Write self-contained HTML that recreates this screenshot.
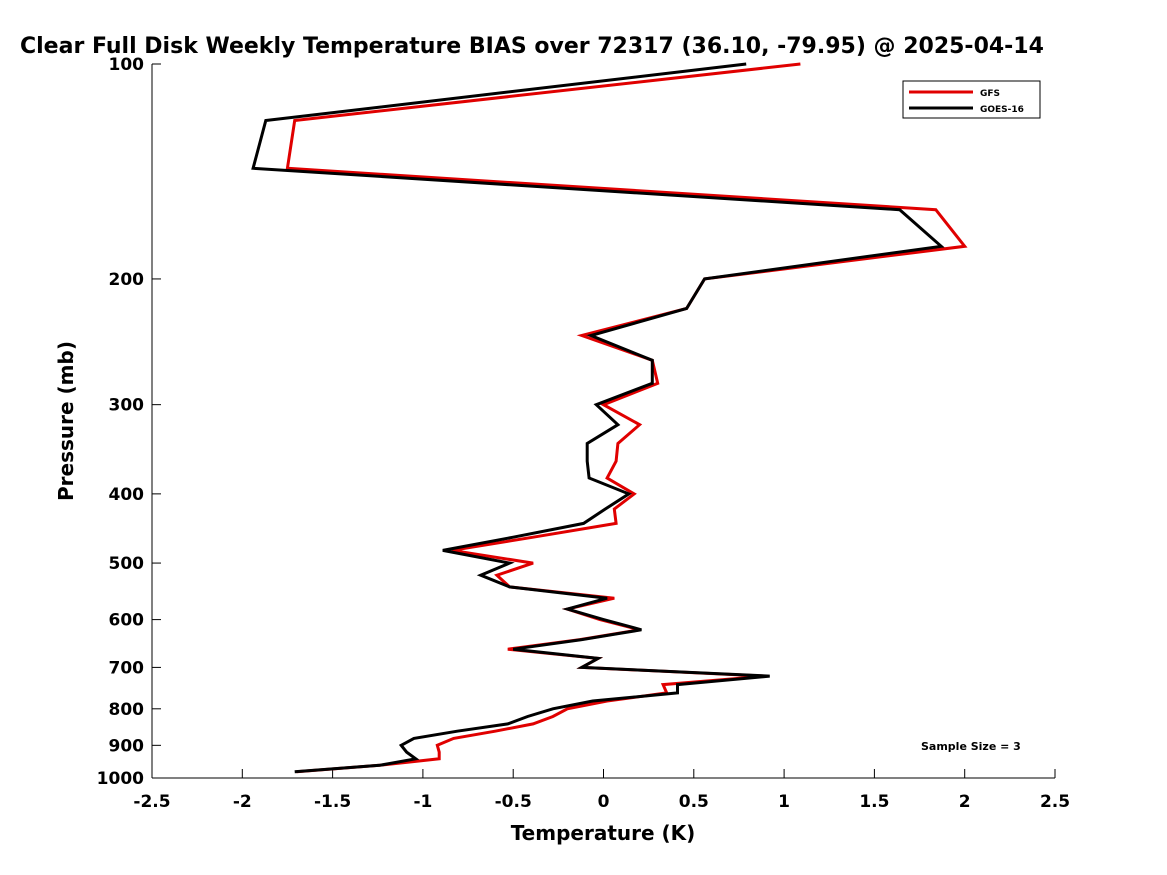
<!DOCTYPE html>
<html><head><meta charset="utf-8"><style>
html,body{margin:0;padding:0;background:#fff;overflow:hidden;}
svg{display:block;font-family:"DejaVu Sans","Liberation Sans",sans-serif;}
</style></head><body>
<svg id="chart" width="1167" height="875" viewBox="0 0 1167 875" xmlns="http://www.w3.org/2000/svg">
<rect width="1167" height="875" fill="#fff"/>
<text x="20" y="53" font-size="22" font-weight="bold" fill="#000">Clear Full Disk Weekly Temperature BIAS over 72317 (36.10, -79.95) @ 2025-04-14</text>
<g id="axes"></g>
<g id="series"></g>
<text x="603" y="840" font-size="20" font-weight="bold" text-anchor="middle">Temperature (K)</text>
<text transform="translate(73,421) rotate(-90)" font-size="20" font-weight="bold" text-anchor="middle">Pressure (mb)</text>
<text x="921" y="750" font-size="11" font-weight="bold">Sample Size = 3</text>
<g>
<rect x="903" y="81" width="137" height="37" fill="#fff" stroke="#000" stroke-width="1"/>
<line x1="909" y1="92" x2="973" y2="92" stroke="#e00000" stroke-width="3"/>
<text x="980" y="96" font-size="9" font-weight="bold">GFS</text>
<line x1="909" y1="108" x2="973" y2="108" stroke="#000" stroke-width="3"/>
<text x="980" y="112" font-size="9" font-weight="bold">GOES-16</text>
</g>
</svg>
<script>
const pressures=[100,120,140,160,180,200,220,240,260,280,300,320,340,360,380,400,420,440,460,480,500,520,540,560,580,600,620,640,660,680,700,720,740,760,780,800,820,840,860,880,900,920,940,960,980];
const gfsBias=[1.09,-1.71,-1.75,1.84,2.00,0.56,0.46,-0.12,0.27,0.30,0.00,0.20,0.08,0.07,0.02,0.17,0.06,0.07,-0.39,-0.84,-0.39,-0.59,-0.52,0.06,-0.20,-0.02,0.20,-0.13,-0.53,-0.03,-0.12,0.90,0.33,0.35,0.02,-0.20,-0.28,-0.39,-0.60,-0.83,-0.92,-0.91,-0.91,-1.24,-1.70];
const goesBias=[0.79,-1.87,-1.94,1.64,1.87,0.56,0.46,-0.07,0.27,0.27,-0.04,0.08,-0.09,-0.09,-0.08,0.14,0.01,-0.11,-0.50,-0.89,-0.52,-0.68,-0.52,0.02,-0.20,0.00,0.21,-0.12,-0.50,-0.03,-0.12,0.92,0.41,0.41,-0.06,-0.28,-0.42,-0.53,-0.81,-1.05,-1.12,-1.09,-1.04,-1.24,-1.71];
const xTicks=[-2.5,-2,-1.5,-1,-0.5,0,0.5,1,1.5,2,2.5];
const yTicks=[100,200,300,400,500,600,700,800,900,1000];

const L=152,R=1055,T=64,B=778;
function xs(v){return L+(v+2.5)/5*(R-L);}
function ys(p){return T+Math.log10(p/100)*(B-T);}
const NS="http://www.w3.org/2000/svg";
const axes=document.getElementById('axes');
function mk(tag,attrs,parent){const e=document.createElementNS(NS,tag);for(const k in attrs)e.setAttribute(k,attrs[k]);parent.appendChild(e);return e;}
const yl=mk('line',{x1:L,y1:T,x2:L,y2:B,stroke:'#000','stroke-width':1},axes);


const xl=mk('line',{x1:L,y1:B,x2:R,y2:B,stroke:'#000','stroke-width':1},axes);


xTicks.forEach(v=>{
  const x=xs(v);
  const t=mk('line',{x1:x,y1:B,x2:x,y2:B-9,stroke:'#000','stroke-width':1},axes);
  
  
  const lb=mk('text',{x:x,y:B+29,'font-size':17,'font-weight':'bold','text-anchor':'middle'},axes);
  
  
  lb.textContent=String(v);
});
yTicks.forEach(p=>{
  const y=ys(p);
  const t=mk('line',{x1:L,y1:y,x2:L+9,y2:y,stroke:'#000','stroke-width':1},axes);
  
  
  const lb=mk('text',{x:L-8,y:y+6,'font-size':17,'font-weight':'bold','text-anchor':'end'},axes);
  
  
  lb.textContent=String(p);
});
const series=document.getElementById('series');
function draw(vals,color,name){
  const pts=vals.map((v,i)=>xs(v).toFixed(1)+','+ys(pressures[i]).toFixed(1)).join(' ');
  const pl=mk('polyline',{points:pts,fill:'none',stroke:color,'stroke-width':3,'stroke-linejoin':'miter'},series);
  
  
}
draw(gfsBias,'#e00000','gfs-line');
draw(goesBias,'#000','goes-16-line');
</script>
</body></html>
